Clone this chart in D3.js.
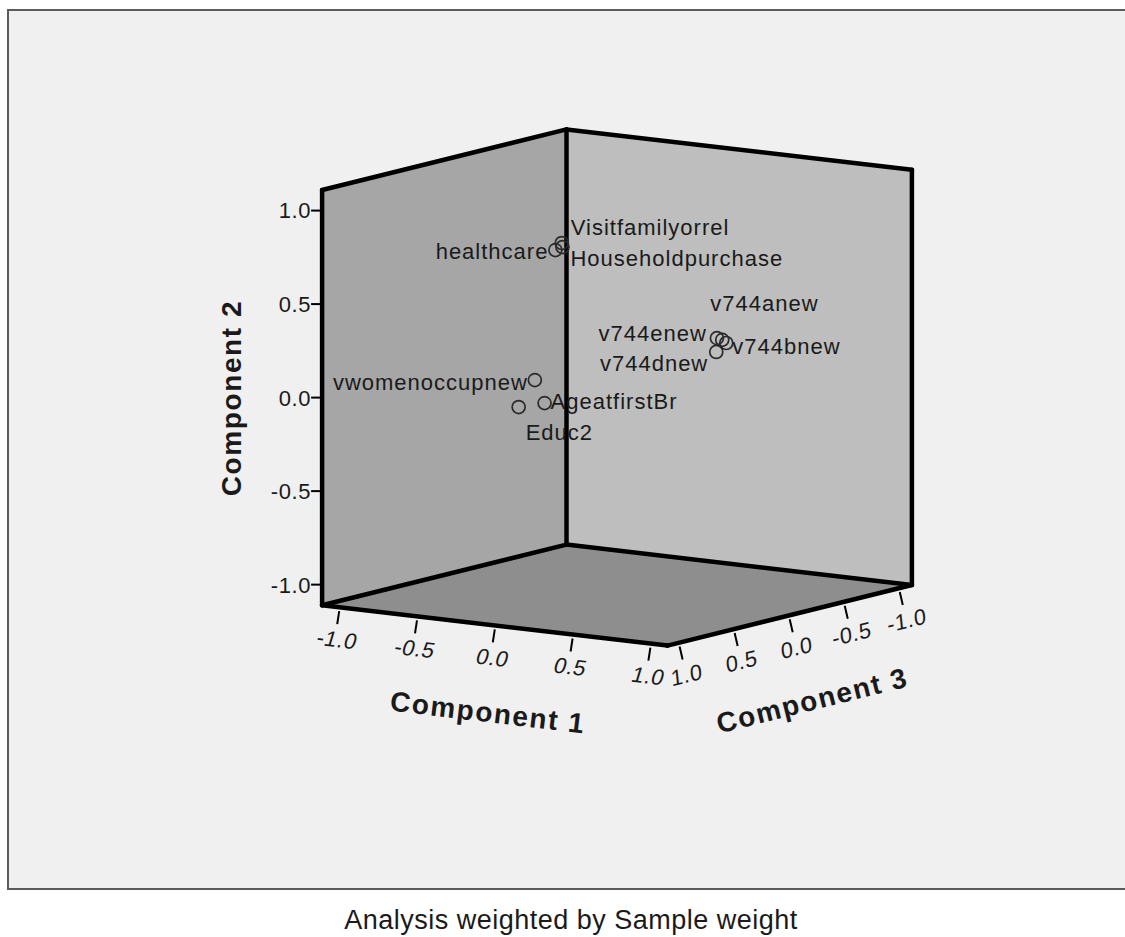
<!DOCTYPE html>
<html>
<head>
<meta charset="utf-8">
<script src="https://cdn.jsdelivr.net/npm/d3@7"></script>
<style>
  html, body { margin: 0; padding: 0; background: #fff; }
  svg { display: block; }
  text { font-family: Arial, "Liberation Sans", sans-serif; fill: #1a1a1a; }
</style>
</head>
<body>
<div id="chart"></div>
<script>
// component loadings
const variables = ["Visitfamilyorrel", "Householdpurchase", "healthcare", "vwomenoccupnew",
  "Educ2", "AgeatfirstBr", "v744anew", "v744bnew", "v744dnew", "v744enew"];
const comp1 = [-0.15, -0.11, -0.12, -0.16, -0.25, -0.14, 0.74, 0.78, 0.73, 0.72];
const comp2 = [0.80, 0.79, 0.78, 0.10, -0.05, -0.03, 0.34, 0.33, 0.28, 0.35];
const comp3 = [0.29, 0.34, 0.39, 0.52, 0.54, 0.46, 0.09, 0.11, 0.13, 0.11];

const axisTitles = ["Component 1", "Component 2", "Component 3"];
const tickValues = [-1.0, -0.5, 0.0, 0.5, 1.0];
const footnote = "Analysis weighted by Sample weight";

// where each point label sits relative to its marker
const labelPlace = {
  Visitfamilyorrel: [9, -16, "start"],
  Householdpurchase: [8, 11, "start"],
  healthcare: [-7, 1, "end"],
  vwomenoccupnew: [-7, 2, "end"],
  Educ2: [7, 25, "start"],
  AgeatfirstBr: [6, -2, "start"],
  v744anew: [-12, -37, "start"],
  v744bnew: [6, 3, "start"],
  v744dnew: [-8, 11, "end"],
  v744enew: [-10, -5, "end"]
};

const width = 1125, height = 937;
const R = 1.11;          // half-size of the cube in data units
const cx = 617, cy = 387.5;

// oblique projection built from linear scales
const sx1 = d3.scaleLinear().domain([-R, R]).range([-172.7, 172.7]);
const sy1 = d3.scaleLinear().domain([-R, R]).range([-20.2, 20.2]);
const sy2 = d3.scaleLinear().domain([-R, R]).range([207.6, -207.6]);
const sx3 = d3.scaleLinear().domain([-R, R]).range([122.2, -122.2]);
const sy3 = d3.scaleLinear().domain([-R, R]).range([-30.3, 30.3]);

const proj = (a, b, c) => [cx + sx1(a) + sx3(c), cy + sy1(a) + sy2(b) + sy3(c)];
// plain hyphen for negatives, like the original
const fmt = d3.formatLocale({ decimal: ".", thousands: ",", grouping: [3], currency: ["", ""], minus: "-" }).format(".1f");

const svg = d3.select("#chart").append("svg")
  .attr("width", width)
  .attr("height", height);

// chart frame
svg.append("rect")
  .attr("x", 8).attr("y", 10)
  .attr("width", 1140).attr("height", 879)
  .attr("fill", "#f0f0f0")
  .attr("stroke", "#5c5c5c")
  .attr("stroke-width", 2);

const poly = pts => pts.map(p => proj(...p).join(",")).join(" ");

// walls
const walls = [
  { fill: "#a6a6a6", pts: [[-R, -R, -R], [-R, R, -R], [-R, R, R], [-R, -R, R]] },
  { fill: "#bebebe", pts: [[-R, -R, -R], [R, -R, -R], [R, R, -R], [-R, R, -R]] },
  { fill: "#8e8e8e", pts: [[-R, -R, -R], [R, -R, -R], [R, -R, R], [-R, -R, R]] }
];
svg.append("g").selectAll("polygon")
  .data(walls)
  .join("polygon")
  .attr("points", d => poly(d.pts))
  .attr("fill", d => d.fill);

// thick box edges
const edges = [
  [[-R, R, R], [-R, -R, R]], [[-R, R, R], [-R, R, -R]], [[-R, R, -R], [-R, -R, -R]],
  [[-R, R, -R], [R, R, -R]], [[R, R, -R], [R, -R, -R]],
  [[-R, -R, R], [-R, -R, -R]], [[-R, -R, -R], [R, -R, -R]],
  [[-R, -R, R], [R, -R, R]], [[R, -R, R], [R, -R, -R]]
];
svg.append("g").selectAll("line")
  .data(edges)
  .join("line")
  .attr("x1", d => proj(...d[0])[0]).attr("y1", d => proj(...d[0])[1])
  .attr("x2", d => proj(...d[1])[0]).attr("y2", d => proj(...d[1])[1])
  .attr("stroke", "#000")
  .attr("stroke-width", 4.5)
  .attr("stroke-linecap", "round");

// component 2 axis (left edge)
const ax2 = svg.append("g");
tickValues.forEach(v => {
  const [x, y] = proj(-R, v, R);
  ax2.append("line")
    .attr("x1", x - 2).attr("x2", x - 11)
    .attr("y1", y).attr("y2", y)
    .attr("stroke", "#000").attr("stroke-width", 2);
  ax2.append("text")
    .attr("x", x - 11).attr("y", y)
    .attr("text-anchor", "end")
    .attr("dy", "0.36em")
    .style("font-size", "22px")
    .style("letter-spacing", "0.6px")
    .text(fmt(v));
});

// component 1 axis (front-left floor edge)
const ax1 = svg.append("g");
tickValues.forEach(v => {
  const [x, y] = proj(v, -R, R);
  ax1.append("line")
    .attr("x1", x).attr("y1", y + 4)
    .attr("x2", x - 2).attr("y2", y + 17)
    .attr("stroke", "#000").attr("stroke-width", 2);
  ax1.append("text")
    .attr("transform", `translate(${x - 2},${y + 32}) rotate(6.7) skewX(-10)`)
    .attr("text-anchor", "middle")
    .attr("dy", "0.36em")
    .style("font-size", "22px")
    .style("letter-spacing", "0.6px")
    .text(fmt(v));
});

// component 3 axis (front-right floor edge)
const ax3 = svg.append("g");
tickValues.forEach(v => {
  const [x, y] = proj(R, -R, v);
  ax3.append("line")
    .attr("x1", x).attr("y1", y + 4)
    .attr("x2", x + 3).attr("y2", y + 17)
    .attr("stroke", "#000").attr("stroke-width", 2);
  ax3.append("text")
    .attr("transform", `translate(${x + 7},${y + 32}) rotate(-14) skewX(-8)`)
    .attr("text-anchor", "middle")
    .attr("dy", "0.36em")
    .style("font-size", "22px")
    .style("letter-spacing", "0.6px")
    .text(fmt(v));
});

// axis titles
const titleStyle = sel => sel
  .attr("text-anchor", "middle")
  .attr("dy", "0.36em")
  .style("font-size", "28px")
  .style("font-weight", "bold")
  .style("letter-spacing", "1.6px");

svg.append("text").call(titleStyle)
  .attr("transform", "translate(488,712) rotate(6.7)")
  .text(axisTitles[0]);
svg.append("text").call(titleStyle)
  .attr("transform", "translate(231,398) rotate(-90)")
  .text(axisTitles[1]);
svg.append("text").call(titleStyle)
  .attr("transform", "translate(812,700) rotate(-14)")
  .text(axisTitles[2]);

// points
const points = variables.map((name, i) => {
  const [x, y] = proj(comp1[i], comp2[i], comp3[i]);
  return { name, x, y };
});

const pg = svg.append("g");
pg.selectAll("circle")
  .data(points)
  .join("circle")
  .attr("cx", d => d.x)
  .attr("cy", d => d.y)
  .attr("r", 6.5)
  .attr("fill", "none")
  .attr("stroke", "#2a2a2a")
  .attr("stroke-width", 1.7);

pg.selectAll("text")
  .data(points)
  .join("text")
  .attr("x", d => d.x + labelPlace[d.name][0])
  .attr("y", d => d.y + labelPlace[d.name][1])
  .attr("text-anchor", d => labelPlace[d.name][2])
  .attr("dy", "0.36em")
  .style("font-size", "22px")
  .style("letter-spacing", "1px")
  .text(d => d.name);

// footnote
svg.append("text")
  .attr("x", 571).attr("y", 929)
  .attr("text-anchor", "middle")
  .style("font-size", "27px")
  .style("letter-spacing", "0.5px")
  .text(footnote);
</script>
</body>
</html>
